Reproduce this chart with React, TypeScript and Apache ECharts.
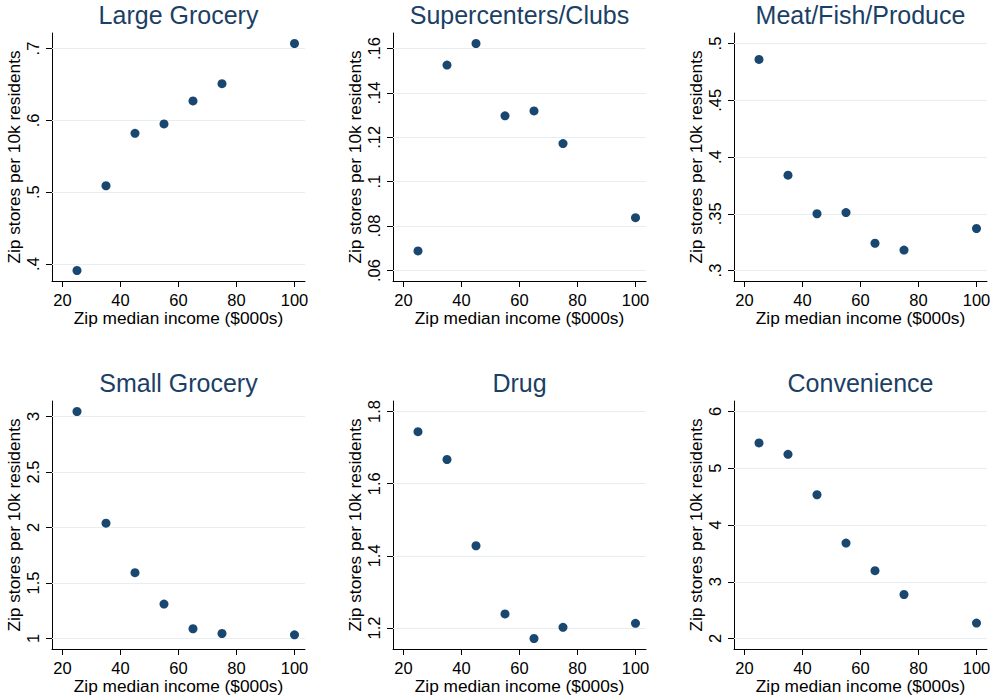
import React, { useEffect, useRef } from 'react';
import * as echarts from 'echarts';

// Zip median income bins ($000s) shared by every panel
const income = [25, 35, 45, 55, 65, 75, 100];
const incomeTicks = [20, 40, 60, 80, 100];

const panelTitles = [
  'Large Grocery',
  'Supercenters/Clubs',
  'Meat/Fish/Produce',
  'Small Grocery',
  'Drug',
  'Convenience',
];

// Stores per 10k residents, one value per income bin
const largeGrocery = [0.391, 0.509, 0.582, 0.595, 0.627, 0.651, 0.707];
const supercentersClubs = [0.0688, 0.1526, 0.1623, 0.1297, 0.1319, 0.1172, 0.0838];
const meatFishProduce = [0.486, 0.384, 0.35, 0.351, 0.324, 0.318, 0.337];
const smallGrocery = [3.045, 2.039, 1.593, 1.31, 1.088, 1.045, 1.033];
const drug = [1.744, 1.667, 1.428, 1.239, 1.171, 1.202, 1.213];
const convenience = [5.446, 5.246, 4.533, 3.681, 3.195, 2.775, 2.272];

// y-axis tick values per panel
const largeGroceryTicks = [0.4, 0.5, 0.6, 0.7];
const supercentersClubsTicks = [0.06, 0.08, 0.1, 0.12, 0.14, 0.16];
const meatFishProduceTicks = [0.3, 0.35, 0.4, 0.45, 0.5];
const smallGroceryTicks = [1, 1.5, 2, 2.5, 3];
const drugTicks = [1.2, 1.4, 1.6, 1.8];
const convenienceTicks = [2, 3, 4, 5, 6];

const xTitle = 'Zip median income ($000s)';
const yTitle = 'Zip stores per 10k residents';

const panelValues = [largeGrocery, supercentersClubs, meatFishProduce, smallGrocery, drug, convenience];
const panelTicks = [
  largeGroceryTicks,
  supercentersClubsTicks,
  meatFishProduceTicks,
  smallGroceryTicks,
  drugTicks,
  convenienceTicks,
];

// Layout of the 3 x 2 panel grid (plot regions)
const COL_LEFT = [52, 393, 734];
const ROW_TOP = [33, 401];
const PLOT_W = 253;
const PLOT_H = 248;
const PAD = 10.5; // inner margin of the plot region, px

const FONT = '"Liberation Sans", Arial, Helvetica, sans-serif';
const NAVY = '#1A476F';
const TITLE_COLOR = '#1C3F66';
const GRID_COLOR = '#E6EEF0';

// Axis range covering data and ticks, widened by PAD pixels on each side
function paddedRange(values: number[], ticks: number[], px: number): [number, number] {
  const lo = Math.min(...values, ...ticks);
  const hi = Math.max(...values, ...ticks);
  const per = (hi - lo) / (px - 2 * PAD);
  return [lo - per * PAD, hi + per * PAD];
}

// ".7" style labels without the leading zero
function fmtTick(v: number): string {
  const s = String(+Number(v).toFixed(6));
  return s.replace(/^0\./, '.').replace(/^-0\./, '-.');
}

function buildOption() {
  const grids: any[] = [];
  const xAxes: any[] = [];
  const yAxes: any[] = [];
  const series: any[] = [];
  const graphics: any[] = [];

  panelValues.forEach((vals, i) => {
    const col = i % 3;
    const row = Math.floor(i / 3);
    const left = COL_LEFT[col];
    const top = ROW_TOP[row];
    const ticks = panelTicks[i];
    const [xMin, xMax] = paddedRange(income, incomeTicks, PLOT_W);
    const [yMin, yMax] = paddedRange(vals, ticks, PLOT_H);

    grids.push({
      left,
      top,
      width: PLOT_W,
      height: PLOT_H,
      containLabel: false,
      outerBoundsMode: 'none',
    });

    xAxes.push({
      type: 'value',
      gridIndex: i,
      min: xMin,
      max: xMax,
      axisLine: { show: true, onZero: false, lineStyle: { color: '#000', width: 1 } },
      axisTick: { show: true, length: 6, customValues: incomeTicks, lineStyle: { color: '#000', width: 1 } },
      axisLabel: {
        customValues: incomeTicks,
        margin: 10,
        fontSize: 16.5,
        color: '#000',
        fontFamily: FONT,
      },
      splitLine: { show: false },
      name: xTitle,
      nameLocation: 'middle',
      nameGap: 28,
      nameTextStyle: { fontSize: 17.3, color: '#000', fontFamily: FONT },
    });

    yAxes.push({
      type: 'value',
      gridIndex: i,
      min: yMin,
      max: yMax,
      axisLine: { show: true, onZero: false, lineStyle: { color: '#000', width: 1 } },
      axisTick: { show: true, length: 6, customValues: ticks, lineStyle: { color: '#000', width: 1 } },
      axisLabel: {
        customValues: ticks,
        rotate: 90,
        margin: 11,
        fontSize: 16.5,
        color: '#000',
        fontFamily: FONT,
        formatter: (v: number) => fmtTick(v),
      },
      splitLine: { show: false },
      name: yTitle,
      nameLocation: 'middle',
      nameGap: 30,
      nameTextStyle: { fontSize: 17.3, color: '#000', fontFamily: FONT },
    });

    series.push({
      type: 'scatter',
      xAxisIndex: i,
      yAxisIndex: i,
      data: income.map((x, j) => [x, vals[j]]),
      symbol: 'circle',
      symbolSize: 9,
      itemStyle: { color: NAVY, opacity: 1 },
      z: 3,
      markLine: {
        silent: true,
        symbol: 'none',
        label: { show: false },
        lineStyle: { color: GRID_COLOR, width: 1, type: 'solid' },
        emphasis: { disabled: true },
        z: 1,
        data: ticks.map((t) => ({ yAxis: t })),
      },
    });

    graphics.push({
      type: 'text',
      x: left + PLOT_W / 2,
      y: top - 18,
      style: {
        text: panelTitles[i],
        fill: TITLE_COLOR,
        fontSize: 25,
        fontFamily: FONT,
        align: 'center',
        verticalAlign: 'middle',
      },
    });
  });

  return {
    animation: false,
    backgroundColor: '#fff',
    grid: grids,
    xAxis: xAxes,
    yAxis: yAxes,
    series,
    graphic: graphics,
  };
}

export default function App() {
  const ref = useRef<HTMLDivElement>(null);

  useEffect(() => {
    document.body.style.margin = '0';
    if (!ref.current) return;
    const chart = echarts.init(ref.current, undefined, { renderer: 'svg' });
    chart.setOption(buildOption() as any);
    return () => chart.dispose();
  }, []);

  return <div ref={ref} style={{ width: 992, height: 698 }} />;
}
